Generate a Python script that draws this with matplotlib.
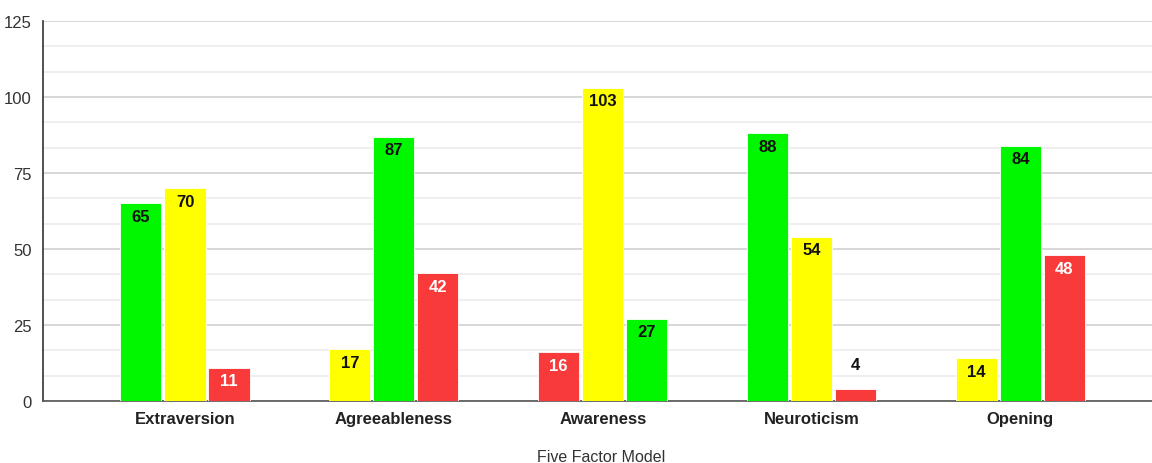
import matplotlib.pyplot as plt
import numpy as np
from matplotlib.ticker import MultipleLocator

plt.rcParams['font.family'] = ['Liberation Sans', 'DejaVu Sans']

categories = ['Extraversion', 'Agreeableness', 'Awareness', 'Neuroticism', 'Opening']
# three bars per trait, left to right
values = [
    [65, 70, 11],
    [17, 87, 42],
    [16, 103, 27],
    [88, 54, 4],
    [14, 84, 48],
]
bar_colors = [
    ['green', 'yellow', 'red'],
    ['yellow', 'green', 'red'],
    ['red', 'yellow', 'green'],
    ['green', 'yellow', 'red'],
    ['yellow', 'green', 'red'],
]
x_title = 'Five Factor Model'

palette = {'green': '#00f700', 'yellow': '#ffff00', 'red': '#f93a3a'}
text_col = {'green': '#111111', 'yellow': '#111111', 'red': '#ffffff'}

fig = plt.figure(figsize=(11.52, 4.64), dpi=100)
ax = fig.add_axes([0.0373, 0.1336, 0.9627, 0.819])

width = 0.197
step = 0.211
x = np.arange(len(categories))

for i in range(len(categories)):
    for j in range(3):
        v = values[i][j]
        c = bar_colors[i][j]
        xpos = x[i] + (j - 1) * step
        ax.bar(xpos, v, width=width, color=palette[c], edgecolor='white',
               linewidth=0.6, zorder=3)
        # small bars get the label above, the rest inside the top
        if v >= 8:
            ax.text(xpos, v - 4.3, str(v), ha='center', va='center', fontsize=12,
                    fontweight='bold', color=text_col[c], zorder=4)
        else:
            ax.text(xpos, v + 8, str(v), ha='center', va='center', fontsize=12,
                    fontweight='bold', color='#111111', zorder=4)

ax.set_xlim(-0.68, 4.63)
ax.set_ylim(0, 125)
ax.yaxis.set_major_locator(MultipleLocator(25))
ax.yaxis.set_minor_locator(MultipleLocator(25 / 3))
ax.grid(axis='y', which='major', color='#d4d4d4', linewidth=1.3, zorder=0)
ax.grid(axis='y', which='minor', color='#ebebeb', linewidth=1.1, zorder=0)

ax.set_xticks(x)
ax.set_xticklabels(categories, fontsize=12, fontweight='bold', color='#222222')
ax.tick_params(axis='x', length=0, pad=7)
ax.tick_params(axis='y', which='both', length=0, labelsize=12, labelcolor='#333333', pad=8)
fig.text(0.522, 0.013, x_title, ha='center', va='center', fontsize=11.5, color='#333333')

for s in ['top', 'right']:
    ax.spines[s].set_visible(False)
ax.spines['left'].set_color('#333333')
ax.spines['bottom'].set_color('#555555')
ax.spines['left'].set_linewidth(1.2)
ax.spines['bottom'].set_linewidth(1.2)

fig.savefig('out.png', dpi=100)
